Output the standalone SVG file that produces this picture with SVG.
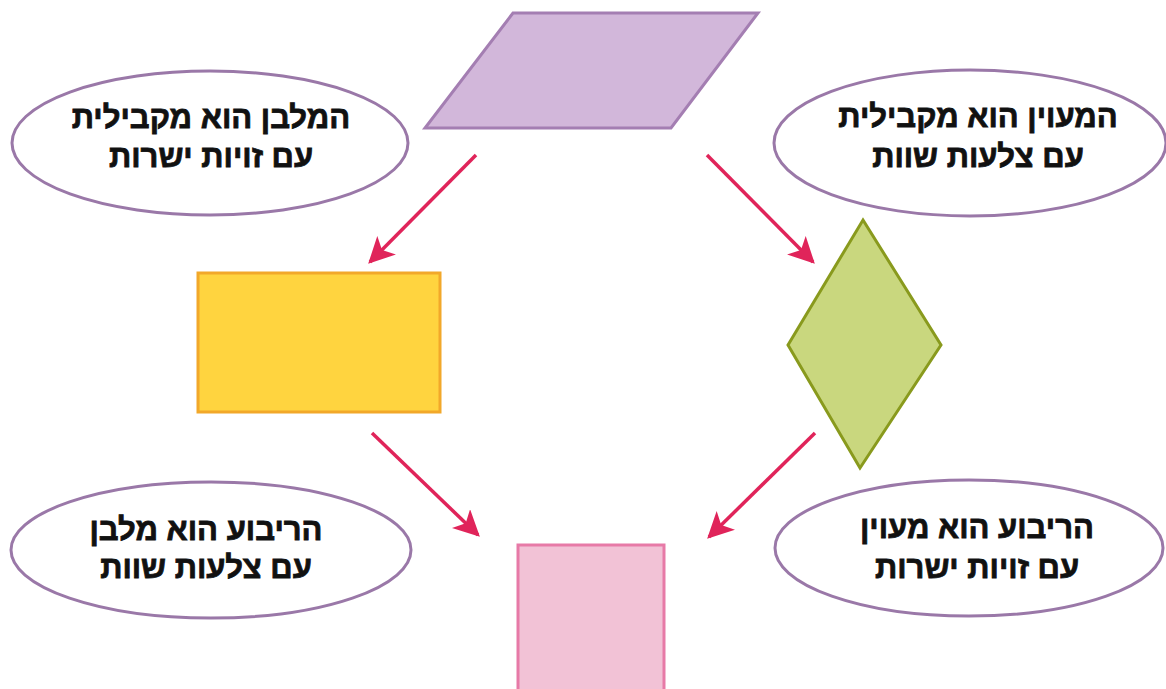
<svg xmlns="http://www.w3.org/2000/svg" width="1166" height="689" viewBox="0 0 1166 689">
<style>
.ell{fill:#ffffff;stroke:#9a78a8;stroke-width:3}
.lbl{font-family:"Liberation Sans",Arial,sans-serif;font-weight:bold;font-size:31px;fill:#111;stroke:#111;stroke-width:0.8px;text-anchor:middle;direction:rtl}
.arr{stroke:#e0245a;stroke-width:3.5;fill:none;marker-end:url(#ah)}
</style>
<defs>
<marker id="ah" viewBox="0 0 10 10" refX="9" refY="5" markerWidth="7.5" markerHeight="7.5" markerUnits="strokeWidth" orient="auto">
<path d="M0,0 L10,5 L0,10 L2.5,5 z" fill="#e0245a"/>
</marker>
</defs>
<rect width="1166" height="689" fill="#ffffff"/>
<g id="connectors">
<line class="arr" x1="476" y1="155" x2="370" y2="262"/>
<line class="arr" x1="707" y1="155" x2="813" y2="262"/>
<line class="arr" x1="372" y1="433" x2="478" y2="535"/>
<line class="arr" x1="815" y1="433" x2="709" y2="537"/>
</g>
<g id="parallelogram"><polygon points="513,13 758,13 671,128 425,128" fill="#d2b7da" stroke="#a47eb2" stroke-width="3"/></g>
<g id="rectangle"><rect x="198" y="273" width="242" height="139" fill="#ffd43f" stroke="#f2a82a" stroke-width="3"/></g>
<g id="rhombus"><polygon points="863,220 941,345 860,468 788,345" fill="#c9d77e" stroke="#899a1d" stroke-width="3"/></g>
<g id="square"><rect x="518" y="545" width="146" height="150" fill="#f2c2d6" stroke="#e77aa7" stroke-width="3"/></g>
<g id="label-rectangle">
<ellipse class="ell" cx="210" cy="143" rx="198" ry="72"/>
<text class="lbl" x="211" y="128">המלבן הוא מקבילית</text>
<text class="lbl" x="211" y="167">עם זויות ישרות</text>
</g>
<g id="label-rhombus">
<ellipse class="ell" cx="970" cy="143" rx="196" ry="73"/>
<text class="lbl" x="978" y="127">המעוין הוא מקבילית</text>
<text class="lbl" x="978" y="167">עם צלעות שוות</text>
</g>
<g id="label-square-rect">
<ellipse class="ell" cx="211" cy="550" rx="200" ry="68"/>
<text class="lbl" x="206" y="540">הריבוע הוא מלבן</text>
<text class="lbl" x="206" y="578">עם צלעות שוות</text>
</g>
<g id="label-square-rhombus">
<ellipse class="ell" cx="969" cy="548" rx="194" ry="68"/>
<text class="lbl" x="977" y="538">הריבוע הוא מעוין</text>
<text class="lbl" x="977" y="578">עם זויות ישרות</text>
</g>
</svg>
